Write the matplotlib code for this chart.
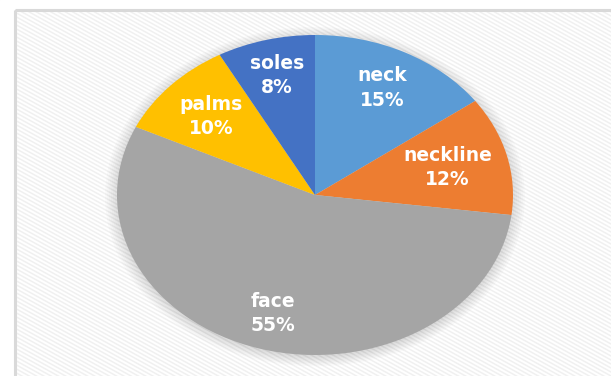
import numpy as np
import matplotlib.pyplot as plt
from matplotlib.patches import Rectangle, Ellipse

labels = ['neck', 'neckline', 'face', 'palms', 'soles']
shares = [15, 12, 55, 10, 8]
colors = ['#5b9bd5', '#ed7d31', '#a5a5a5', '#ffc000', '#4472c4']

W, H = 611, 376
fig = plt.figure(figsize=(W / 100, H / 100), dpi=100)
fig.patch.set_facecolor('white')

# background: framed area with faint diagonal stripes
bg = fig.add_axes([0, 0, 1, 1])
bg.set_xlim(0, W)
bg.set_ylim(H, 0)
bg.axis('off')
x0, y0 = 15, 10
slope = 0.55
for c in np.arange(-slope * W, H + 5, 4.0):
    bg.plot([0, W], [c, c + slope * W], color='#f0f0f0', lw=1.1, zorder=0)
bg.add_patch(Rectangle((0, 0), W, y0, color='white', zorder=1))
bg.add_patch(Rectangle((0, 0), x0, H, color='white', zorder=1))
bg.add_patch(Rectangle((x0, y0), W, H, fill=False, ec='#d9d9d9', lw=2.2, zorder=2))

# pie area (stretched into an ellipse)
cx, cy, rx, ry = 315, 195, 198, 160
ax = fig.add_axes([(cx - rx) / W, 1 - (cy + ry) / H, 2 * rx / W, 2 * ry / H])
ax.patch.set_alpha(0)

# soft shadow around the pie
for s in np.linspace(1.06, 1.0, 7):
    ax.add_patch(Ellipse((0, -0.01), 2 * s, 2 * s, color='black', alpha=0.02,
                         lw=0, zorder=0, clip_on=False))

wedges, _ = ax.pie(shares, colors=colors, startangle=90, counterclock=False,
                   radius=1, frame=False,
                   wedgeprops=dict(linewidth=0, zorder=2))
ax.set_xlim(-1, 1)
ax.set_ylim(-1, 1)
ax.set_aspect('auto')
ax.axis('off')

dists = [0.75, 0.69, 0.77, 0.72, 0.77]
for w, name, v, d in zip(wedges, labels, shares, dists):
    ang = np.deg2rad((w.theta1 + w.theta2) / 2)
    ax.text(d * np.cos(ang), d * np.sin(ang), f'{name}\n{v}%', ha='center', va='center',
            color='white', fontsize=13.5, fontweight='bold', linespacing=1.35, zorder=5)

fig.savefig('out.png', dpi=100)
